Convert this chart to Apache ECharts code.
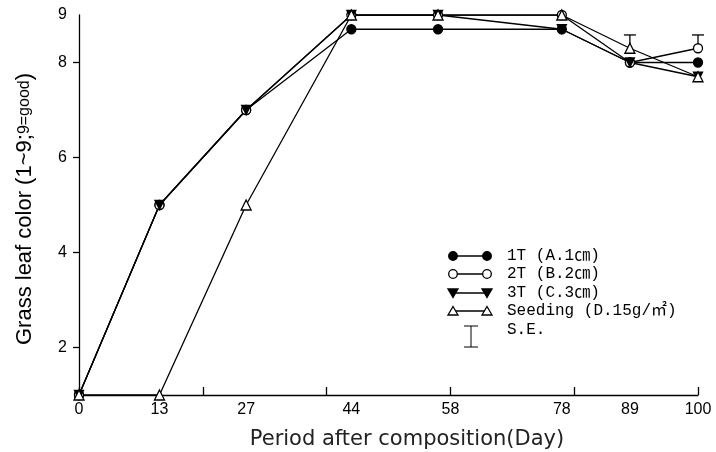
<!DOCTYPE html>
<html>
<head>
<meta charset="utf-8">
<script src="https://cdn.jsdelivr.net/npm/echarts@6/dist/echarts.min.js"></script>
<style>html,body{margin:0;padding:0;background:#fff}#c{width:716px;height:452px}</style>
</head>
<body>
<div id="c"></div>
<script>
// ---- data ----
var days = [0, 13, 27, 44, 58, 78, 89, 100];
var s1T = [1, 5, 7, 8.7, 8.7, 8.7, 8, 8];
var s2T = [1, 5, 7, 9, 9, 9, 8, 8.3];
var s3T = [1, 5, 7, 9, 9, 8.7, 8, 7.7];
var sSeed = [1, 1, 5, 9, 9, 9, 8.3, 7.7];
var seNames = ['1T (A.1㎝)', '2T (B.2㎝)', '3T (C.3㎝)', 'Seeding (D.15g/㎡)'];
// error bars: [day, base value, upper value]
var errBars = [[89, 8.3, 8.58], [100, 8.3, 8.58]];
var xLabelPos = [0, 13, 27, 44, 60, 78, 89, 100];
var xLabelText = ['0', '13', '27', '44', '58', '78', '89', '100'];
var xTickPos = [0, 20, 40, 60, 80, 100];
var yLabelPos = [2, 4, 6, 8, 9];
var yTickPos = [2, 4, 6, 8];

function pairs(vals) { return days.map(function (d, i) { return [d, vals[i]]; }); }

var chart = echarts.init(document.getElementById('c'));
var lineStyle = { color: '#000', width: 1.3 };
function mk(name, vals, symbol, fill, rotate, size) {
  return {
    type: 'line', name: name, data: pairs(vals), symbol: symbol, symbolSize: size,
    symbolRotate: rotate, showAllSymbol: true, animation: false,
    lineStyle: lineStyle,
    itemStyle: { color: fill, borderColor: '#000', borderWidth: 1.3 },
    emphasis: { disabled: true }
  };
}

// legend drawn as graphic
var legendY = [256, 274, 293, 311];
var lx1 = 453, lx2 = 487, ltx = 507;
var g = [];
var symDefs = [
  { kind: 'circle', fill: '#000' },
  { kind: 'circle', fill: '#fff' },
  { kind: 'tdown', fill: '#000' },
  { kind: 'tup', fill: '#fff' }
];
var legFont = '16px "Liberation Mono","Noto Sans CJK KR",monospace';
function symShape(kind, fill, x, y) {
  if (kind === 'circle') return { type: 'circle', shape: { cx: x, cy: y, r: 4.3 }, style: { fill: fill, stroke: '#000', lineWidth: 1.3 }, z: 10 };
  var pts = kind === 'tup' ? [[x, y - 4.5], [x + 5, y + 4], [x - 5, y + 4]] : [[x - 5, y - 4], [x + 5, y - 4], [x, y + 4.5]];
  return { type: 'polygon', shape: { points: pts }, style: { fill: fill, stroke: '#000', lineWidth: 1.3 }, z: 10 };
}
legendY.forEach(function (y, i) {
  g.push({ type: 'line', shape: { x1: lx1, y1: y, x2: lx2, y2: y }, style: { stroke: '#000', lineWidth: 1.3 }, z: 9 });
  g.push(symShape(symDefs[i].kind, symDefs[i].fill, lx1, y));
  g.push(symShape(symDefs[i].kind, symDefs[i].fill, lx2, y));
  g.push({ type: 'text', x: ltx, y: y, style: { text: seNames[i], fill: '#000', font: legFont, verticalAlign: 'middle' } });
});
// S.E. legend
g.push({ type: 'line', shape: { x1: 471, y1: 326, x2: 471, y2: 347 }, style: { stroke: '#000', lineWidth: 1 } });
g.push({ type: 'line', shape: { x1: 464, y1: 326, x2: 478, y2: 326 }, style: { stroke: '#000', lineWidth: 1 } });
g.push({ type: 'line', shape: { x1: 464, y1: 347, x2: 478, y2: 347 }, style: { stroke: '#000', lineWidth: 1 } });
g.push({ type: 'text', x: ltx, y: 330, style: { text: 'S.E.', fill: '#000', font: legFont, verticalAlign: 'middle' } });
// axis titles
g.push({ type: 'text', x: 407, y: 440, style: { text: 'Period after composition(Day)', fill: '#222', font: '21px "DejaVu Sans",sans-serif', align: 'center', verticalAlign: 'middle' } });
g.push({
  type: 'text', x: 25, y: 209, rotation: Math.PI / 2,
  style: {
    text: '{a|Grass leaf color (1~9;}{b|9=good}{a|)}', align: 'center', verticalAlign: 'middle',
    rich: { a: { fontSize: 22, fontFamily: 'Liberation Sans', color: '#222' }, b: { fontSize: 16, fontFamily: 'Liberation Sans', color: '#222' } }
  }
});

var option = {
  animation: false,
  backgroundColor: '#fff',
  grid: { left: 79, right: 18, top: 15, bottom: 57, containLabel: false },
  xAxis: {
    type: 'value', min: 0, max: 100, interval: 20,
    axisLine: { lineStyle: { color: '#000', width: 1.3 } },
    axisTick: { inside: true, length: 8, customValues: xTickPos, lineStyle: { color: '#000', width: 1.3 } },
    axisLabel: {
      customValues: xLabelPos, color: '#000', fontSize: 16, fontFamily: 'Liberation Sans', margin: 7,
      formatter: function (v) { var i = xLabelPos.indexOf(v); return i >= 0 ? xLabelText[i] : ''; }
    },
    splitLine: { show: false }
  },
  yAxis: {
    type: 'value', min: 1, max: 9,
    axisLine: { show: true, lineStyle: { color: '#000', width: 1.3 } },
    axisTick: { show: true, length: 6, customValues: yTickPos, lineStyle: { color: '#000', width: 1.3 } },
    axisLabel: { customValues: yLabelPos, color: '#000', fontSize: 16, fontFamily: 'Liberation Sans', margin: 12 },
    splitLine: { show: false }
  },
  series: [
    {
      type: 'custom', name: 'SE', data: errBars, z: 1, animation: false,
      renderItem: function (params, api) {
        var x = api.value(0), lo = api.value(1), hi = api.value(2);
        var p1 = api.coord([x, lo]), p2 = api.coord([x, hi]);
        return {
          type: 'group', children: [
            { type: 'line', shape: { x1: p1[0], y1: p1[1], x2: p2[0], y2: p2[1] }, style: { stroke: '#000', lineWidth: 1.3 } },
            { type: 'line', shape: { x1: p2[0] - 6, y1: p2[1], x2: p2[0] + 6, y2: p2[1] }, style: { stroke: '#000', lineWidth: 1.3 } }
          ]
        };
      }
    },
    mk(seNames[0], s1T, 'circle', '#000', 0, 9),
    mk(seNames[1], s2T, 'circle', '#fff', 0, 9),
    mk(seNames[2], s3T, 'triangle', '#000', 180, 9),
    mk(seNames[3], sSeed, 'triangle', '#fff', 0, 10)
  ],
  graphic: g
};
chart.setOption(option);
</script>
</body>
</html>
